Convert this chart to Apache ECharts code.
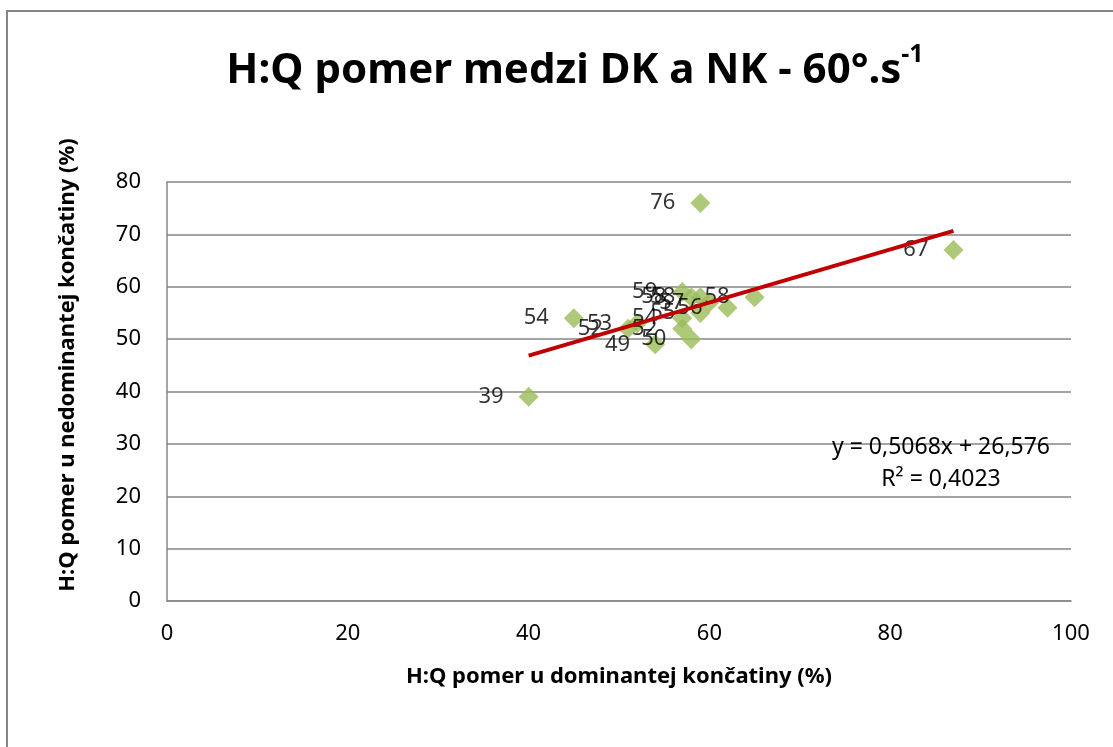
<!DOCTYPE html>
<html>
<head>
<meta charset="utf-8">
<script src="https://cdn.jsdelivr.net/npm/echarts@6/dist/echarts.min.js"></script>
<style>html,body{margin:0;padding:0;background:#fff}#c{width:1113px;height:747px}</style>
</head>
<body>
<div id="c"></div>
<script>
const xDominant = [40, 45, 51, 52, 54, 57, 57, 58, 57, 58, 59, 60, 59, 62, 65, 59, 87];
const yNondominant = [39, 54, 52, 53, 49, 54, 52, 50, 59, 58, 58, 57, 55, 56, 58, 76, 67];
const trendSlope = 0.5068;
const trendIntercept = 26.576;
const trendR2 = 0.4023;
const xTicks = [0, 20, 40, 60, 80, 100];
const yTicks = [0, 10, 20, 30, 40, 50, 60, 70, 80];
const xTitle = 'H:Q pomer u dominantej končatiny (%)';
const yTitle = 'H:Q pomer u nedominantej končatiny (%)';

const FONT = '"Noto Sans", sans-serif';
const pts = xDominant.map((x, i) => [x, yNondominant[i]]);
const xmin = Math.min(...xDominant), xmax = Math.max(...xDominant);
const trend = [[xmin, trendSlope * xmin + trendIntercept], [xmax, trendSlope * xmax + trendIntercept]];
const fmt = v => String(v).replace('.', ',');

const chart = echarts.init(document.getElementById('c'), null, {renderer: 'canvas'});
chart.setOption({
  animation: false,
  backgroundColor: '#fff',
  title: {
    text: '{t|H:Q pomer medzi DK a NK - 60°.s}{s|-1}',
    left: 570, top: 37, textAlign: 'center',
    textStyle: {
      rich: {
        t: {fontFamily: FONT, fontWeight: 'bold', fontSize: 42, color: '#000', verticalAlign: 'bottom', lineHeight: 50},
        s: {fontFamily: FONT, fontWeight: 'bold', fontSize: 25, color: '#000', verticalAlign: 'top', padding: [0,0,20,0], lineHeight: 50}
      }
    }
  },
  grid: {left: 167, right: 42, top: 182, bottom: 146},
  xAxis: {
    type: 'value', min: 0, max: 100, interval: 20,
    name: xTitle,
    nameLocation: 'middle', nameGap: 65,
    nameTextStyle: {fontFamily: FONT, fontWeight: 'bold', fontSize: 22, color: '#000'},
    axisLine: {show: true, lineStyle: {color: '#868686', width: 1.5}},
    axisTick: {show: false},
    splitLine: {show: false},
    axisLabel: {fontFamily: FONT, fontSize: 22, color: '#000', margin: 22,
      formatter: v => xTicks.includes(v) ? String(v) : ''}
  },
  yAxis: {
    type: 'value', min: 0, max: 80, interval: 10,
    axisLine: {show: true, lineStyle: {color: '#868686', width: 1.5}},
    axisTick: {show: false},
    splitLine: {show: true, lineStyle: {color: '#868686', width: 1.5}},
    axisLabel: {fontFamily: FONT, fontSize: 22, color: '#000', margin: 26,
      formatter: v => yTicks.includes(v) ? String(v) : ''}
  },
  series: [
    {
      type: 'scatter', data: pts, symbol: 'diamond', symbolSize: 20,
      itemStyle: {color: '#9BBB59'},
      label: {show: true, position: 'left', distance: 15, fontFamily: FONT, fontSize: 22, color: '#000',
        formatter: p => String(p.value[1])},
      z: 2
    },
    {
      type: 'line', data: trend, symbol: 'none', silent: true,
      lineStyle: {color: '#C00000', width: 4},
      z: 3
    }
  ],
  graphic: [
    {type: 'rect', shape: {x: 7, y: 11, width: 1130, height: 760},
     style: {fill: 'none', stroke: '#868686', lineWidth: 2}, silent: true},
    {type: 'text', x: 68, y: 365, rotation: Math.PI / 2,
     style: {text: yTitle, fontFamily: FONT, fontWeight: 'bold', fontSize: 22, fill: '#000', align: 'center', verticalAlign: 'middle'}, z: 10},
    {type: 'text', x: 941, y: 447,
     style: {text: 'y = ' + fmt(trendSlope) + 'x + ' + fmt(trendIntercept), fontFamily: FONT, fontSize: 23, fill: '#000', align: 'center', verticalAlign: 'middle'}, z: 10},
    {type: 'text', x: 941, y: 479,
     style: {text: 'R² = ' + fmt(trendR2), fontFamily: FONT, fontSize: 23, fill: '#000', align: 'center', verticalAlign: 'middle'}, z: 10}
  ]
});
</script>
</body>
</html>
